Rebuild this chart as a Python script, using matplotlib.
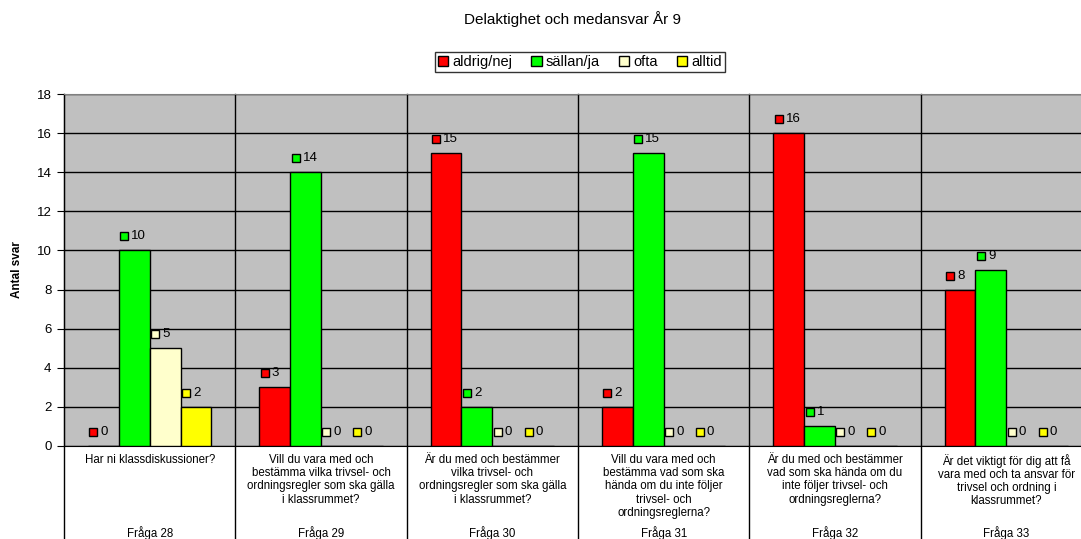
import matplotlib.pyplot as plt
import matplotlib.transforms as mtransforms
import numpy as np

plt.rcParams['font.family'] = ['Liberation Sans', 'DejaVu Sans']

series = ['aldrig/nej', 'sällan/ja', 'ofta', 'alltid']
colors = ['#FF0000', '#00FF00', '#FFFFCC', '#FFFF00']
aldrig = [0, 3, 15, 2, 16, 8]
sallan = [10, 14, 2, 15, 1, 9]
ofta = [5, 0, 0, 0, 0, 0]
alltid = [2, 0, 0, 0, 0, 0]
fragor = ['Fråga 28', 'Fråga 29', 'Fråga 30', 'Fråga 31', 'Fråga 32', 'Fråga 33']
texter = [
    'Har ni klassdiskussioner?',
    'Vill du vara med och\nbestämma vilka trivsel- och\nordningsregler som ska gälla\ni klassrummet?',
    'Är du med och bestämmer\nvilka trivsel- och\nordningsregler som ska gälla\ni klassrummet?',
    'Vill du vara med och\nbestämma vad som ska\nhända om du inte följer\ntrivsel- och\nordningsreglerna?',
    'Är du med och bestämmer\nvad som ska hända om du\ninte följer trivsel- och\nordningsreglerna?',
    'Är det viktigt för dig att få\nvara med och ta ansvar för\ntrivsel och ordning i\nklassrummet?',
]
values = [aldrig, sallan, ofta, alltid]

W, H = 1081, 539
fig = plt.figure(figsize=(W / 100, H / 100), dpi=100)
ax = fig.add_axes([64 / W, (H - 446) / H, (1092 - 64) / W, (446 - 94) / H])
ax.set_facecolor('#C0C0C0')

x = np.arange(len(fragor))
bw = 0.18
for k, vals in enumerate(values):
    pos = x + (k - 1.5) * bw
    ax.bar(pos, vals, width=bw, color=colors[k], edgecolor='black', linewidth=1, zorder=3)
    sq = mtransforms.offset_copy(ax.transData, fig=fig, x=-10, y=14, units='dots')
    tx = mtransforms.offset_copy(ax.transData, fig=fig, x=-3, y=14, units='dots')
    for p, v in zip(pos, vals):
        ax.plot(p, v, marker='s', ms=6.3, mfc=colors[k], mec='black', mew=1,
                transform=sq, clip_on=False, zorder=5)
        ax.text(p, v, str(v), transform=tx, ha='left', va='center', fontsize=9.5, zorder=5)

ax.set_xlim(-0.5, len(fragor) - 0.5)
ax.set_ylim(0, 18)
ax.set_yticks(range(0, 19, 2))
ax.tick_params(axis='y', length=5, labelsize=9.5, direction='out', pad=4)
ax.set_xticks([])
ax.grid(axis='y', color='black', linewidth=1, zorder=1)
ax.set_axisbelow(True)
ax.spines['top'].set_color('#808080')
ax.spines['right'].set_visible(False)
ax.set_ylabel('Antal svar', fontsize=8.5, fontweight='bold', labelpad=10)

blend = mtransforms.blended_transform_factory(ax.transData, ax.transAxes)
for b in np.arange(-0.5, len(fragor), 1.0):
    ax.plot([b, b], [-0.3, 1], color='black', linewidth=1, transform=blend,
            clip_on=False, zorder=2)
for i in x:
    ax.text(i, -0.022, texter[i], transform=blend, ha='center', va='top',
            fontsize=8.3, linespacing=1.14)
    ax.text(i, -0.247, fragor[i], transform=blend, ha='center', va='center', fontsize=8.3)

fig.text(572 / W, 1 - 19 / H, 'Delaktighet och medansvar År 9', ha='center', va='center', fontsize=11)
handles = [plt.Rectangle((0, 0), 1, 1, facecolor=c, edgecolor='black', linewidth=1) for c in colors]
leg = fig.legend(handles, series, loc='center', bbox_to_anchor=(580 / W, 1 - 62 / H), ncol=4,
                 fontsize=10.5, handlelength=0.7, handleheight=0.7, handletextpad=0.3,
                 columnspacing=1.3, borderpad=0.2, borderaxespad=0, frameon=True, fancybox=False)
leg.get_frame().set_edgecolor('black')
leg.get_frame().set_linewidth(1)

fig.savefig('out.png', dpi=100)
